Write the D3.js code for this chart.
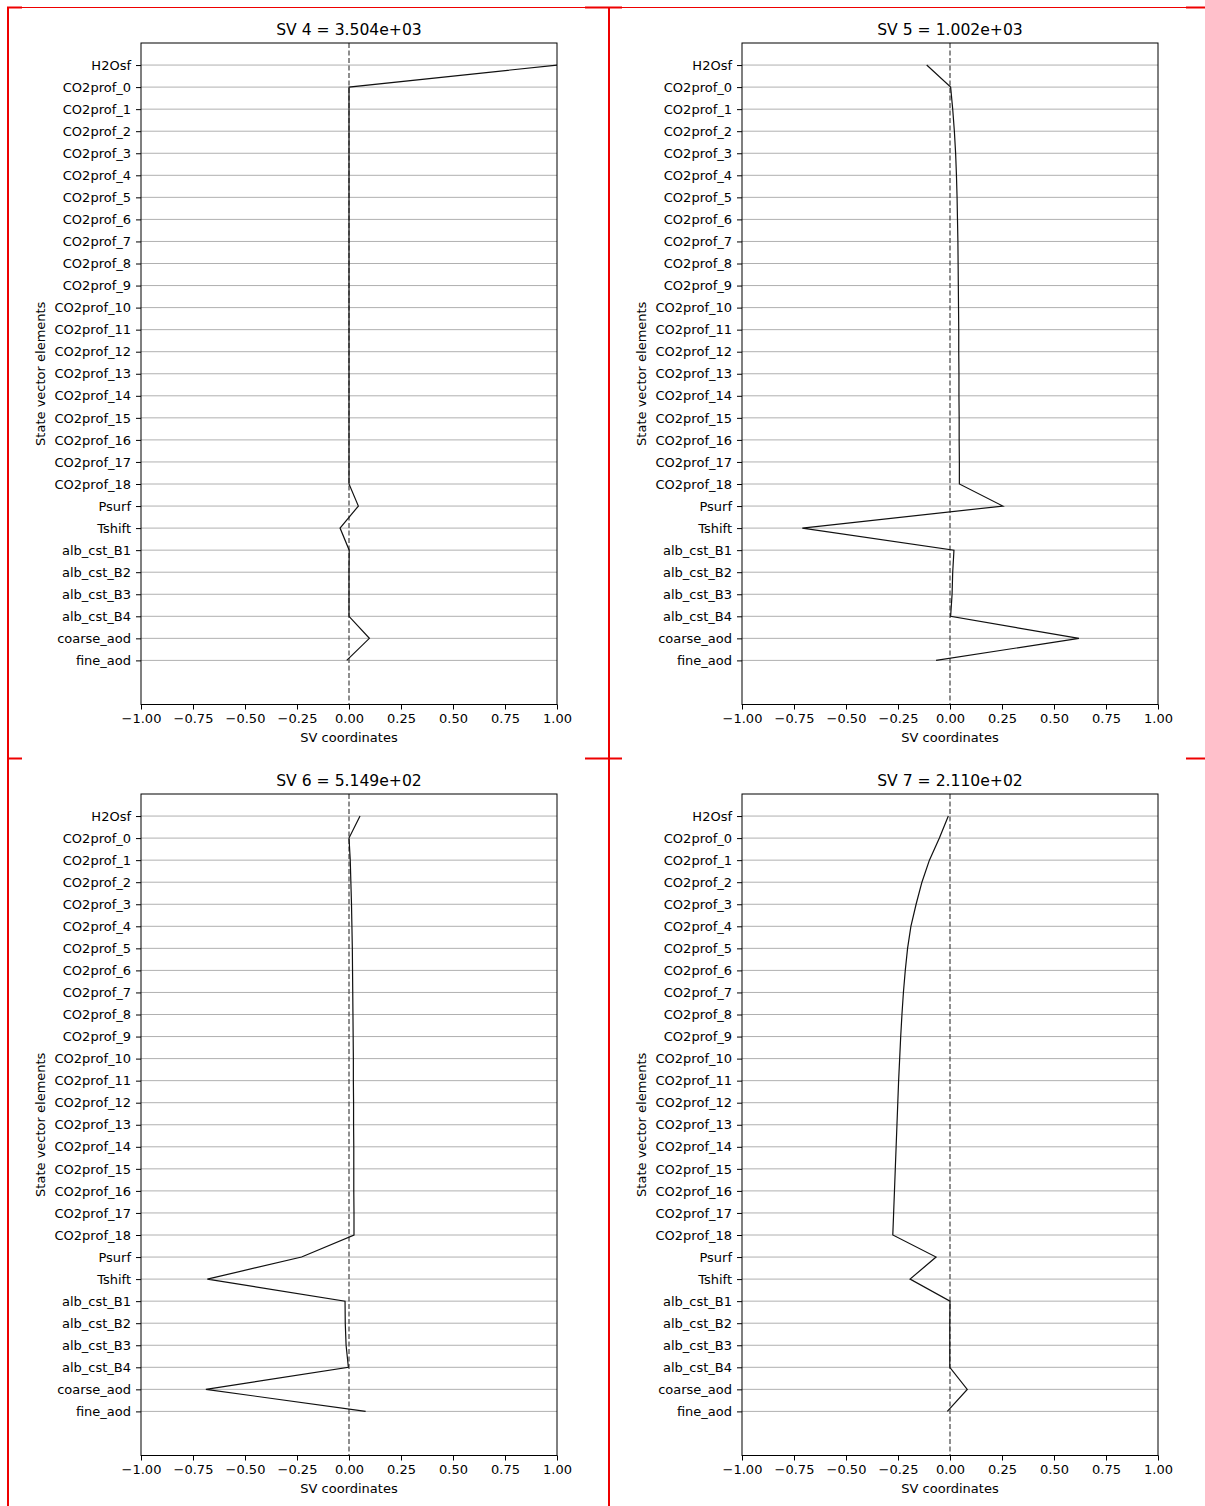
<!DOCTYPE html>
<html><head><meta charset="utf-8">
<script src="https://cdn.jsdelivr.net/npm/d3@7"></script>
<style>
html,body{margin:0;padding:0;background:#fff;}
svg{display:block;}
text{font-family:"DejaVu Sans",sans-serif;fill:#000;}
</style></head>
<body>
<svg id="chart" width="1205" height="1506"></svg>
<script>
const categories = ["H2Osf","CO2prof_0","CO2prof_1","CO2prof_2","CO2prof_3","CO2prof_4","CO2prof_5","CO2prof_6","CO2prof_7","CO2prof_8","CO2prof_9","CO2prof_10","CO2prof_11","CO2prof_12","CO2prof_13","CO2prof_14","CO2prof_15","CO2prof_16","CO2prof_17","CO2prof_18","Psurf","Tshift","alb_cst_B1","alb_cst_B2","alb_cst_B3","alb_cst_B4","coarse_aod","fine_aod"];

const titles = ["SV 4 = 3.504e+03","SV 5 = 1.002e+03","SV 6 = 5.149e+02","SV 7 = 2.110e+02"];

const sv4 = [1.0, 0.0,0.0,0.0,0.0,0.0,0.0,0.0,0.0,0.0,0.0,0.0,0.0,0.0,0.0,0.0,0.0,0.0,0.0,0.0, 0.045,-0.043, 0.001,0.0,0.0,0.0, 0.098,-0.011];
const sv5 = [-0.112, 0.003,0.013,0.021,0.027,0.031,0.034,0.036,0.038,0.039,0.040,0.041,0.042,0.042,0.043,0.043,0.044,0.044,0.045,0.045, 0.254,-0.71, 0.019,0.013,0.010,0.003, 0.62,-0.067];
const sv6 = [0.053, 0.0,0.006,0.009,0.012,0.014,0.016,0.017,0.018,0.019,0.020,0.021,0.021,0.022,0.022,0.023,0.023,0.023,0.024,0.024, -0.228,-0.681, -0.019,-0.018,-0.014,-0.003, -0.688,0.080];
const sv7 = [-0.008, -0.051,-0.099,-0.135,-0.163,-0.188,-0.204,-0.215,-0.224,-0.231,-0.237,-0.242,-0.247,-0.251,-0.255,-0.259,-0.263,-0.267,-0.271,-0.275, -0.067,-0.192, 0.0,-0.001,-0.001,-0.001, 0.083,-0.013];

const xTicks = [-1,-0.75,-0.5,-0.25,0,0.25,0.5,0.75,1];
const xLabel = "SV coordinates";
const yLabel = "State vector elements";

const series = [sv4, sv5, sv6, sv7];
const panels = [
  {x0:141, x1:557, y0:43, y1:704.5},
  {x0:742, x1:1158, y0:43, y1:704.5},
  {x0:141, x1:557, y0:794, y1:1455.5},
  {x0:742, x1:1158, y0:794, y1:1455.5}
];

const svg = d3.select("#chart");
const fmt = d3.format(".2f");

// red layout marks
const red = svg.append("g");
red.append("line").attr("x1",8).attr("x2",1205).attr("y1",7.5).attr("y2",7.5).attr("stroke","#e00").attr("stroke-width",1);
[8, 609].forEach(x=>{
  red.append("line").attr("x1",x).attr("x2",x).attr("y1",7).attr("y2",1506).attr("stroke","#e00").attr("stroke-width",2);
});
[7.5, 758.5].forEach(y=>{
  [[7,22],[585,622],[1186,1205]].forEach(([a,b])=>{
    red.append("line").attr("x1",a).attr("x2",b).attr("y1",y).attr("y2",y).attr("stroke","#e00").attr("stroke-width",2);
  });
});

panels.forEach((p,i)=>{
  const g = svg.append("g");
  const x = d3.scaleLinear().domain([-1,1]).range([p.x0,p.x1]);
  const y = d3.scaleLinear().domain([-1,29]).range([p.y0,p.y1]);
  const idx = d3.range(categories.length);

  // grid
  g.append("g").selectAll("line").data(idx).join("line")
    .attr("x1",p.x0).attr("x2",p.x1)
    .attr("y1",d=>y(d)).attr("y2",d=>y(d))
    .attr("stroke","#b0b0b0").attr("stroke-width",1);

  // zero dashed
  g.append("line").attr("x1",x(0)).attr("x2",x(0)).attr("y1",p.y0).attr("y2",p.y1)
    .attr("stroke","#444").attr("stroke-width",1.2).attr("stroke-dasharray","5,2.5");

  // data line
  const line = d3.line().x(d=>x(d)).y((d,j)=>y(j));
  g.append("path").datum(series[i]).attr("d",line)
    .attr("fill","none").attr("stroke","#111").attr("stroke-width",1.2).attr("stroke-linejoin","miter");

  // axes
  const ax = g.append("g").attr("transform",`translate(0,${p.y1})`)
    .call(d3.axisBottom(x).tickValues(xTicks).tickFormat(fmt).tickSize(5).tickPadding(4));
  const ay = g.append("g").attr("transform",`translate(${p.x0},0)`)
    .call(d3.axisLeft(y).tickValues(idx).tickFormat(d=>categories[d]).tickSize(5).tickPadding(5));
  [ax, ay].forEach(a=>{
    a.select(".domain").remove();
    a.selectAll(".tick line").attr("stroke","#000").attr("stroke-width",1);
    a.selectAll(".tick text").style("font-family","DejaVu Sans").style("font-size","13px").attr("fill","#000");
  });

  // frame
  g.append("rect").attr("x",p.x0).attr("y",p.y0).attr("width",p.x1-p.x0).attr("height",p.y1-p.y0)
    .attr("fill","none").attr("stroke","#000").attr("stroke-width",1);

  // title
  g.append("text").attr("x",(p.x0+p.x1)/2).attr("y",p.y0-8).attr("text-anchor","middle")
    .style("font-size","15.6px").text(titles[i]);
  // xlabel
  g.append("text").attr("x",(p.x0+p.x1)/2).attr("y",p.y1+37).attr("text-anchor","middle")
    .style("font-size","13px").text(xLabel);
  // ylabel
  g.append("text").attr("transform",`translate(${p.x0-96},${(p.y0+p.y1)/2}) rotate(-90)`)
    .attr("text-anchor","middle").style("font-size","13px").text(yLabel);
});
</script>
</body></html>
